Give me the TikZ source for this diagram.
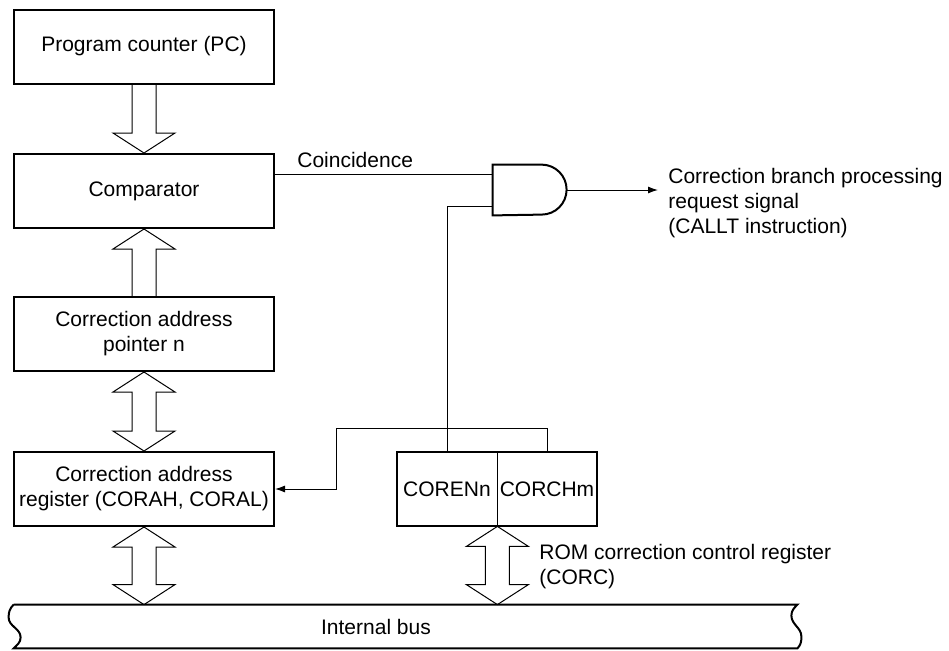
\documentclass[tikz,border=0pt]{standalone}
\usepackage{fontspec}
\setmainfont{Liberation Sans}
\usetikzlibrary{arrows.meta, positioning, calc, backgrounds}

% hollow bus arrows
\newcommand{\fatarrow}[3]{%
  \draw[hollow] ($(#1)+(-12,0)$) -- ($(#2)+(-12,#3)$) -- ++(-19,0) -- (#2)
    -- ++(31,#3) -- ++(-19,0) -- ($(#1)+(12,0)$);}
\newcommand{\fatboth}[2]{%
  \draw[hollow] (#1) -- ++(31,-20) -- ++(-19,0) -- ($(#2)+(12,20)$) -- ++(19,0)
    -- (#2) -- ++(-31,20) -- ++(19,0) -- ($(#1)+(-12,-20)$) -- ++(-19,0) -- cycle;}

\begin{document}
\begin{tikzpicture}[
    x=0.5pt, y=0.5pt,
    font=\fontsize{10.5}{12.5}\selectfont,
    frame/.style={draw, line width=1pt},
    box/.style={rectangle, frame, minimum width=130pt, minimum height=37pt, align=center, inner sep=0pt},
    half/.style={rectangle, minimum width=50pt, minimum height=37pt, inner sep=0pt},
    sig/.style={line width=0.5pt},
    hollow/.style={draw, fill=white, line width=0.5pt, line join=miter},
    tip/.style={-{Latex[length=5pt,width=3.5pt]}}
]
\useasboundingbox (0,0) rectangle (949,-650);

% left column
\node[box] (pc) at (144,-46.5) {Program counter (PC)};
\node[box] (cmp) at (144,-191) {Comparator};
\node[box] (ptr) at (144,-334) {Correction address\\pointer n};
\node[box] (reg) at (144,-489) {Correction address\\register (CORAH, CORAL)};

% CORC register
\node[half] (coren) at (447,-489) {CORENn};
\node[half] (corch) at (547,-489) {CORCHm};
\draw[frame] (coren.north west) rectangle (corch.south east);
\draw[sig] (coren.north east) -- (coren.south east);
\node[anchor=west, align=left, inner sep=0pt] (rom) at (539,-567) {ROM correction control register\\(CORC)};

% internal bus
\node[minimum width=391.5pt, minimum height=21.5pt, inner sep=0pt] (bus) at (405.5,-626.5) {};
\node (busname) at (376,-627) {Internal bus};
\draw[frame] (bus.north west) -- (bus.north east)
  to[out=225,in=90] ++(-6,-11) to[out=270,in=90] ++(10,-21) to[out=270,in=45] (bus.south east)
  -- (bus.south west) to[out=45,in=270] ++(7,11) to[out=90,in=270] ++(-12,20) to[out=90,in=225] (bus.north west);

% AND gate
\node[minimum width=37pt, minimum height=25pt, inner sep=0pt] (gate) at (530,-190) {};
\draw[frame] (gate.north west) -- ++(49,0) arc[start angle=90, end angle=-90, radius=12.5pt]
  -- (gate.south west) -- cycle;
\coordinate (in1) at ($(gate.west)+(0,16)$);
\coordinate (in2) at ($(gate.west)+(0,-16)$);
\node[anchor=north west, align=left, inner xsep=5pt, inner ysep=0pt] (req) at (658,-168)
  {Correction branch processing\\request signal\\(CALLT instruction)};

% signals
\draw[sig] (cmp.east |- in1) -- (in1);
\node[anchor=south west, inner sep=2pt] (coin) at ($(cmp.east |- in1)+(18,2)$) {Coincidence};
\draw[sig, tip] (gate.east) -- (gate.east -| req.west);
\draw[sig] (in2) -| (coren.north);
\coordinate (bend) at (336,-428);
\draw[sig, tip] (corch.north) |- (bend) |- (reg.east);

% bus arrows
\begin{scope}[on background layer]
\fatarrow{pc.south}{cmp.north}{20}
\fatarrow{ptr.north}{cmp.south}{-20}
\fatboth{ptr.south}{reg.north}
\fatboth{reg.south}{reg.south |- bus.north}
\fatboth{coren.south east}{coren.south east |- bus.north}
\end{scope}
\end{tikzpicture}
\end{document}
